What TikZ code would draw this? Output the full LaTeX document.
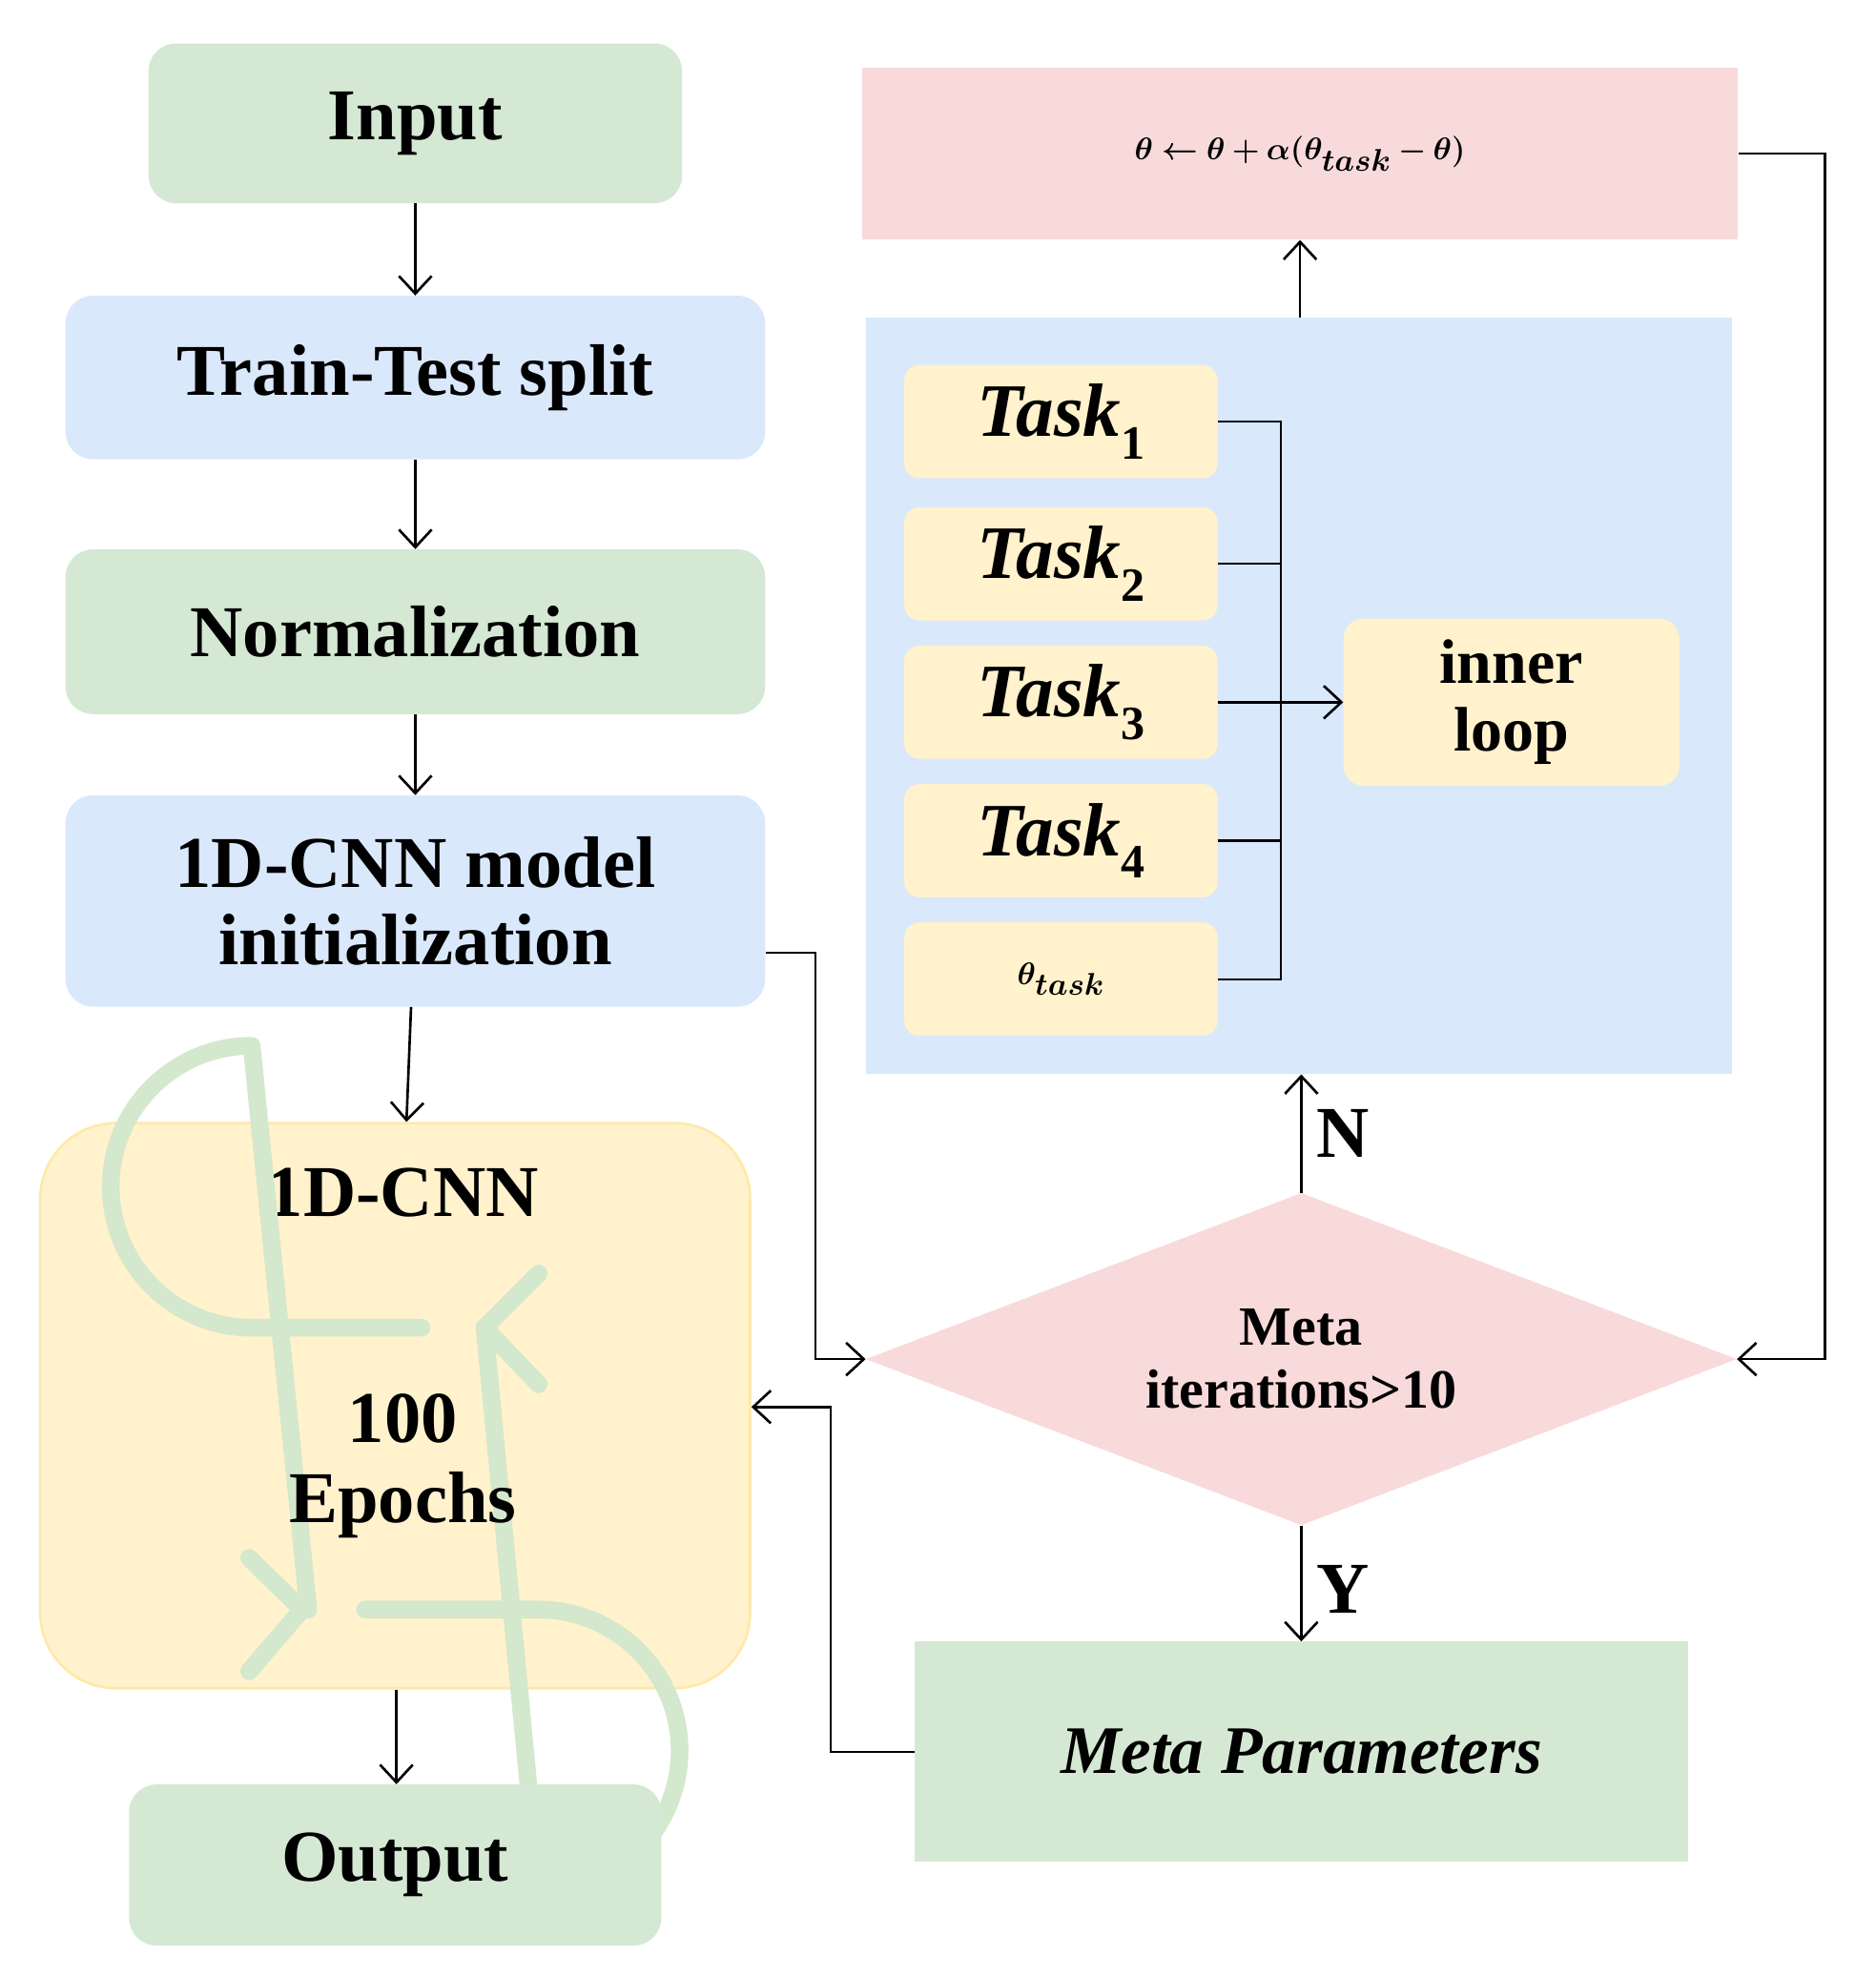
\documentclass[tikz,border=0pt]{standalone}
\usepackage{amsmath,bm}
\usepackage{fontspec}
\setmainfont{Liberation Serif}
\usetikzlibrary{arrows.meta,shapes.geometric}
\definecolor{gr}{HTML}{D5E8D4}
\definecolor{bl}{HTML}{DAE8FC}
\definecolor{ye}{HTML}{FFF2CC}
\definecolor{yb}{HTML}{FFE9A8}
\definecolor{pk}{HTML}{F8DADB}
\definecolor{lg}{HTML}{D3E8CC}
\newcommand{\fsz}[1]{\fontsize{#1}{#1}\selectfont}
\newcommand{\tsk}[1]{\textbf{\textit{Task}}\raisebox{-0.3em}{\fsz{38}\textbf{#1}}}
\begin{document}
\begin{tikzpicture}[x=1pt,y=-1pt,
 box/.style={rounded corners=22pt,draw=none,inner sep=0pt,font=\fsz{58}\bfseries,align=center},
 sq/.style={draw=none,inner sep=0pt,align=center},
 tk/.style={fill=ye,rounded corners=12pt,minimum width=249pt,minimum height=90pt,inner sep=0pt,font=\fsz{60}},
 ar/.style={draw=black,line width=2pt,-{Straight Barb[length=14pt,width=26pt,line width=2pt]}},
 ln/.style={draw=black,line width=2pt}]
\useasboundingbox (0,0) rectangle (1490,1571);
% left column
\node[box,fill=gr,minimum width=424pt,minimum height=127pt] (in) at (330,98) {Input};
\node[box,fill=bl,minimum width=556pt,minimum height=130pt] (tt) at (330,300) {Train-Test split};
\node[box,fill=gr,minimum width=556pt,minimum height=131pt] (no) at (330,502) {Normalization};
\node[box,fill=bl,minimum width=556pt,minimum height=168pt] (md) at (330,716) {1D-CNN model\\[4pt]initialization};
\node[draw=yb,line width=2pt,fill=ye,rounded corners=60pt,minimum width=564pt,minimum height=449pt,inner sep=0pt] (cnn) at (314,1117) {};
\node[font=\fsz{58}\bfseries] (cnnt) at (320,948) {1D-CNN};
\begin{scope}[lg,line width=14pt,line cap=round,line join=round]
\draw (335,1055) -- (200,1055) arc[start angle=90,end angle=270,radius=112] -- (245,1279);
\draw (290,1279) -- (428,1279) arc[start angle=-90,end angle=90,radius=112] -- (385,1055);
\draw (428,1012) -- (385,1055) -- (428,1100);
\draw (198,1238) -- (240,1279) -- (198,1328);
\end{scope}
\node[font=\fsz{58}\bfseries,align=center] (ep) at (320,1165) {100\\[6pt]Epochs};
\node[box,fill=gr,minimum width=423pt,minimum height=128pt] (out) at (314,1482) {Output};
\draw[ar] (in) -- (tt);
\draw[ar] (tt) -- (no);
\draw[ar] (no) -- (md);
\draw[ar] (md) -- (cnn);
\draw[ar] (cnn.south) ++(1,0) coordinate (cs) (cs) -- (cs |- out.north);
% right
\node[sq,fill=pk,minimum width=696pt,minimum height=137pt,font=\fsz{52}] (up) at (1033,122) {$\bm{\theta \leftarrow \theta + \alpha(\theta_{task} - \theta)}$};
\node[sq,fill=bl,minimum width=688pt,minimum height=601pt] (pan) at (1032,553) {};
\node[tk] (t1) at (843,335) {\tsk{1}};
\node[tk] (t2) at (843,448) {\tsk{2}};
\node[tk] (t3) at (843,558) {\tsk{3}};
\node[tk] (t4) at (843,668) {\tsk{4}};
\node[tk] (tt5) at (843,778) {$\bm{\theta_{task}}$};
\node[box,fill=ye,rounded corners=16pt,minimum width=267pt,minimum height=133pt,font=\fsz{50}\bfseries] (il) at (1201,558) {inner\\[4pt]loop};
\coordinate (b1) at (1018,335);
\coordinate (b5) at (1018,778);
\draw[line width=1.5pt] (t1.east) -- (b1) -- (b5) -- (tt5.east);
\draw[line width=2pt] (t2.east) -- (t2.east -| b1);
\draw[line width=2pt] (t4.east) -- (t4.east -| b1);
\draw[ar,line width=2pt] (t3.east) -- (il.west);
\draw[ar] (pan.north -| up.south) -- (up.south);
\node[diamond,fill=pk,minimum width=692pt,minimum height=264pt,inner sep=0pt,aspect=2.62,font=\fsz{44}\bfseries,align=center] (dm) at (1034,1080) {Meta\\[6pt]iterations>10};
\node[sq,fill=gr,minimum width=614pt,minimum height=175pt,font=\fsz{54}\bfseries\itshape] (mp) at (1034,1392) {Meta Parameters};
\draw[ar] (dm.north) -- (dm.north |- pan.south) node[pos=0.5,right=8pt,font=\fsz{58}\bfseries] {N};
\draw[ar] (dm.south) -- (mp.north) node[pos=0.55,right=8pt,font=\fsz{58}\bfseries] {Y};
\coordinate (c1) at (648,757);
\draw[ar] (md.east |- c1) -- (c1) |- (dm.west);
\coordinate (c2) at (660,1392);
\draw[ar] (mp.west) -- (c2) |- (cnn.east |- 0,1118);
\coordinate (c3) at (1450,122);
\draw[ar] (up.east) -- (c3) |- (dm.east);
\end{tikzpicture}
\end{document}
